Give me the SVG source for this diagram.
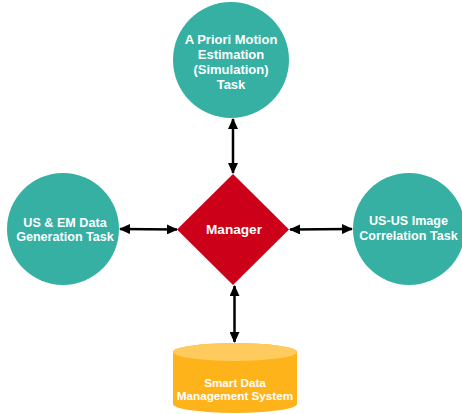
<svg xmlns="http://www.w3.org/2000/svg" width="462" height="414" viewBox="0 0 462 414">
  <style>
    .task { fill: #35B0A2; }
    .label { font-family: "Liberation Sans", Arial, sans-serif; font-weight: bold; fill: #ffffff; text-anchor: middle; }
    .link { stroke: #000000; stroke-width: 2.5; fill: none; marker-start: url(#head); marker-end: url(#head); }
  </style>
  <defs>
    <marker id="head" viewBox="0 0 11 10" refX="10" refY="5" markerWidth="11" markerHeight="10" markerUnits="userSpaceOnUse" orient="auto-start-reverse">
      <path d="M0,0 L11,5 L0,10 Z" fill="#000000"/>
    </marker>
  </defs>

  <rect width="462" height="414" fill="#ffffff"/>

  <g id="connectors">
    <line class="link" x1="233" y1="119" x2="233" y2="173"/>
    <line class="link" x1="120" y1="229" x2="177" y2="229.5"/>
    <line class="link" x1="290" y1="229.5" x2="352" y2="229"/>
    <line class="link" x1="234.5" y1="286" x2="234.5" y2="342"/>
  </g>

  <g id="motion-estimation">
    <circle class="task" cx="231" cy="60" r="58"/>
    <text class="label" font-size="13" x="231" y="44">A Priori Motion</text>
    <text class="label" font-size="13" x="231" y="59">Estimation</text>
    <text class="label" font-size="13" x="231" y="74">(Simulation)</text>
    <text class="label" font-size="13" x="231" y="89">Task</text>
  </g>

  <g id="data-generation">
    <circle class="task" cx="63" cy="229" r="56"/>
    <text class="label" font-size="12.6" x="65" y="227">US &amp; EM Data</text>
    <text class="label" font-size="12.6" x="65" y="241">Generation Task</text>
  </g>

  <g id="image-correlation">
    <circle class="task" cx="409" cy="229" r="56"/>
    <text class="label" font-size="12.6" x="408.5" y="225">US-US Image</text>
    <text class="label" font-size="12.6" x="408.5" y="240">Correlation Task</text>
  </g>

  <g id="manager">
    <polygon points="233,174 289,229.5 233,285 177,229.5" fill="#CC0019"/>
    <text class="label" font-size="13.6" x="234" y="234">Manager</text>
  </g>

  <g id="data-management">
    <path d="M173,352 A62,9 0 0 1 297,352 L297,404 A62,9 0 0 1 173,404 Z" fill="#FFB31A"/>
    <ellipse cx="235" cy="352" rx="62" ry="9" fill="#FFCB5E"/>
    <text class="label" font-size="11.7" x="235" y="387">Smart Data</text>
    <text class="label" font-size="11.7" x="235" y="399.5">Management System</text>
  </g>
</svg>
